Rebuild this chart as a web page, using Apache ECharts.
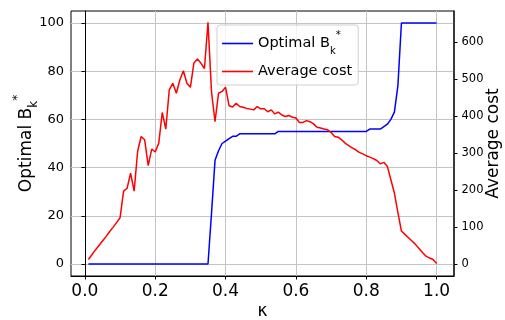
<!DOCTYPE html>
<html>
<head>
<meta charset="utf-8">
<script src="https://cdn.jsdelivr.net/npm/echarts@6/dist/echarts.min.js"></script>
<style>
html,body{margin:0;padding:0;background:#fff;}
#c{width:505px;height:320px;}
</style>
</head>
<body>
<div id="c"></div>
<script>
var kappa = [0.01,0.02,0.03,0.04,0.05,0.06,0.07,0.08,0.09,0.10,
0.11,0.12,0.13,0.14,0.15,0.16,0.17,0.18,0.19,0.20,
0.21,0.22,0.23,0.24,0.25,0.26,0.27,0.28,0.29,0.30,
0.31,0.32,0.33,0.34,0.35,0.36,0.37,0.38,0.39,0.40,
0.41,0.42,0.43,0.44,0.45,0.46,0.47,0.48,0.49,0.50,
0.51,0.52,0.53,0.54,0.55,0.56,0.57,0.58,0.59,0.60,
0.61,0.62,0.63,0.64,0.65,0.66,0.67,0.68,0.69,0.70,
0.71,0.72,0.73,0.74,0.75,0.76,0.77,0.78,0.79,0.80,
0.81,0.82,0.83,0.84,0.85,0.86,0.87,0.88,0.89,0.90,
0.91,0.92,0.93,0.94,0.95,0.96,0.97,0.98,0.99,1.00];

var optimalB = [0,0,0,0,0,0,0,0,0,0,
0,0,0,0,0,0,0,0,0,0,
0,0,0,0,0,0,0,0,0,0,
0,0,0,0,0,21,43,47,50,51,
52,53,53,54,54,54,54,54,54,54,
54,54,54,54,55,55,55,55,55,55,
55,55,55,55,55,55,55,55,55,55,
55,55,55,55,55,55,55,55,55,55,
56,56,56,56,57,58,60,63,74,100,
100,100,100,100,100,100,100,100,100,100];

var avgCost = [12,25,38,50,62,74,87,99,112,125,
197,205,246,197,305,345,336,266,311,303,
327,410,365,472,489,462,498,523,489,478,
544,555,543,529,654,466,385,462,467,478,
428,425,435,426,424,421,419,417,426,420,
420,412,417,406,411,403,399,402,397,395,
383,383,388,385,379,370,368,365,363,356,
345,343,336,327,320,314,309,302,298,293,
289,285,280,271,275,264,228,192,139,89,
80,71,62,53,42,31,21,16,12,1];

var xTicks = [0,0.2,0.4,0.6,0.8,1.0];
var leftTicks = [0,20,40,60,80,100];
var rightTicks = [0,100,200,300,400,500,600];

function pairs(xs, ys){ return xs.map(function(x,i){return [x, ys[i]];}); }

var FONT = 'DejaVu Sans';
var chart = echarts.init(document.getElementById('c'), null, {renderer:'canvas'});
chart.setOption({
  animation: false,
  backgroundColor: '#fff',
  grid: {left: 71, right: 51, top: 11, bottom: 44, containLabel: false, outerBoundsMode: 'none',
    show: true, borderColor: '#000', borderWidth: 1, backgroundColor:'transparent'},
  legend: {
    orient: 'vertical', left: 217, top: 25,
    data: [{name:'Optimal B', icon:'rect'}, {name:'Average cost', icon:'rect'}],
    itemWidth: 31, itemHeight: 1.6, itemGap: 7, itemTextGap: 11,
    padding: [5, 6, 5, 5],
    backgroundColor: 'rgba(255,255,255,0.8)',
    borderColor: '#d0d0d0', borderWidth: 1, borderRadius: 3,
    formatter: function(n){ return n === 'Optimal B' ? 'Optimal B{sub|k}{sup|*}' : n; },
    textStyle: {fontFamily: FONT, fontSize: 14.5, color: '#000', lineHeight: 17,
      rich: {
        sub: {fontSize: 10, fontFamily: FONT, color:'#000', verticalAlign:'bottom', lineHeight: 17, padding:[0,0,-4,0]},
        sup: {fontSize: 10, fontFamily: FONT, color:'#000', verticalAlign:'top', lineHeight: 17, padding:[-5,0,0,0]}
      }}
  },
  xAxis: {
    type: 'value', min: -0.0395, max: 1.0495,
    name: 'κ', nameLocation: 'middle', nameGap: 27, nameMoveOverlap: false,
    nameTextStyle: {fontFamily: FONT, fontSize: 17, color: '#000', verticalAlign: 'top'},
    axisLine: {show: true, onZero: false, lineStyle: {color: '#000', width: 1}},
    axisTick: {show: true, length: 3.5, lineStyle: {color: '#000'}, customValues: xTicks},
    axisLabel: {fontFamily: FONT, fontSize: 17, color: '#000', margin: 7, customValues: xTicks,
      formatter: function(v){ return v.toFixed(1); }},
    splitLine: {show: true, lineStyle: {color: '#c4c4c4', width: 1}}
  },
  yAxis: [{
    type: 'value', min: -5, max: 105, position: 'left',
    name: 'Optimal B{sub|k}{sup|*}', nameLocation: 'middle', nameGap: 36, nameMoveOverlap: false,
    nameTextStyle: {fontFamily: FONT, fontSize: 17, color: '#000', rich: {
      sub: {fontSize: 12, fontFamily: FONT, color:'#000', verticalAlign:'bottom', padding:[0,0,-5,0]},
      sup: {fontSize: 12, fontFamily: FONT, color:'#000', verticalAlign:'top', padding:[-6,0,0,0]}
    }},
    axisLine: {show: true, lineStyle: {color: '#000', width: 1}},
    axisTick: {show: true, length: 3.5, lineStyle: {color: '#000'}, customValues: leftTicks},
    axisLabel: {fontFamily: FONT, fontSize: 13, color: '#000', margin: 7, customValues: leftTicks},
    splitLine: {show: true, lineStyle: {color: '#c4c4c4', width: 1}}
  }, {
    type: 'value', min: -32.6, max: 684.6, position: 'right',
    name: 'Average cost', nameLocation: 'middle', nameGap: 31, nameMoveOverlap: false,
    nameTextStyle: {fontFamily: FONT, fontSize: 17, color: '#000'},
    axisLine: {show: true, lineStyle: {color: '#222', width: 1.5}},
    axisTick: {show: true, length: 3.5, lineStyle: {color: '#000'}, customValues: rightTicks},
    axisLabel: {fontFamily: FONT, fontSize: 11.5, color: '#000', margin: 7.5, customValues: rightTicks},
    splitLine: {show: false}
  }],
  series: [{
    name: 'Optimal B', type: 'line', yAxisIndex: 0, symbol: 'none',
    data: pairs(kappa, optimalB),
    lineStyle: {color: '#0000ff', width: 1.5}, itemStyle: {color: '#0000ff'}
  }, {
    name: 'Average cost', type: 'line', yAxisIndex: 1, symbol: 'none',
    data: pairs(kappa, avgCost),
    lineStyle: {color: '#ff0000', width: 1.5}, itemStyle: {color: '#ff0000'}
  }]
});
</script>
</body>
</html>
